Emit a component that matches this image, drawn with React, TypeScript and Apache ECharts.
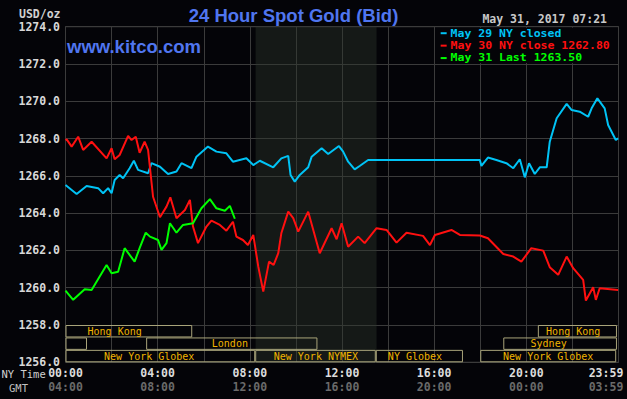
import { useEffect, useRef } from 'react';
import * as echarts from 'echarts';

// ---- data (x = minutes after 00:00 NY time, y = USD/oz) ----
const may29Closed: [number, number][] = [
  [0, 1265.51], [29, 1265.03], [55, 1265.46], [85, 1265.34], [98, 1265.07], [111, 1265.34], [120, 1265.07],
  [128, 1265.78], [141, 1266.05], [150, 1265.87], [167, 1266.41], [178, 1266.81], [189, 1266.32], [215, 1266.14],
  [224, 1266.68], [246, 1266.49], [267, 1266.10], [289, 1266.23], [302, 1266.68], [328, 1266.41], [341, 1267.03],
  [371, 1267.57], [393, 1267.30], [419, 1267.21], [436, 1266.76], [471, 1266.94], [489, 1266.58], [506, 1266.81],
  [541, 1266.46], [562, 1266.94], [580, 1267.07], [586, 1266.05], [597, 1265.69], [610, 1266.05], [632, 1266.46],
  [641, 1267.03], [667, 1267.48], [684, 1267.17], [712, 1267.60], [723, 1267.30], [736, 1266.76], [753, 1266.35],
  [766, 1266.53], [788, 1266.85], [1079, 1266.85], [1083, 1266.53], [1100, 1266.98], [1122, 1266.85], [1148, 1266.68],
  [1166, 1266.41], [1183, 1266.89], [1196, 1265.92], [1207, 1266.68], [1222, 1266.10], [1235, 1266.46], [1253, 1266.46],
  [1261, 1267.83], [1279, 1269.09], [1305, 1269.86], [1318, 1269.53], [1339, 1269.44], [1361, 1269.17], [1370, 1269.62],
  [1385, 1270.16], [1404, 1269.62], [1413, 1268.73], [1433, 1267.92], [1439, 1268.02],
];

const may30Close: [number, number][] = [
  [0, 1267.92], [3, 1267.96], [16, 1267.57], [33, 1268.10], [46, 1267.39], [68, 1267.83], [107, 1266.94],
  [120, 1267.48], [128, 1266.89], [141, 1267.12], [163, 1268.14], [172, 1267.92], [183, 1268.10], [193, 1267.24],
  [206, 1267.83], [215, 1267.39], [228, 1264.88], [246, 1263.78], [263, 1264.35], [273, 1264.85], [289, 1263.73],
  [311, 1264.17], [324, 1264.71], [332, 1263.28], [345, 1262.39], [367, 1263.28], [380, 1263.60], [402, 1263.37],
  [419, 1263.06], [436, 1263.54], [445, 1262.74], [462, 1262.56], [475, 1262.29], [489, 1262.83], [502, 1261.13],
  [515, 1259.79], [530, 1261.40], [542, 1261.22], [554, 1261.85], [562, 1262.92], [580, 1264.08], [593, 1263.73],
  [606, 1263.01], [632, 1264.08], [662, 1261.85], [693, 1263.19], [706, 1262.60], [719, 1263.46], [736, 1262.20],
  [762, 1262.74], [779, 1262.39], [810, 1263.19], [836, 1263.10], [862, 1262.42], [888, 1262.95], [931, 1262.78],
  [949, 1262.29], [962, 1262.83], [1005, 1263.10], [1027, 1262.83], [1079, 1262.80], [1100, 1262.65], [1140, 1261.81],
  [1166, 1261.67], [1187, 1261.40], [1213, 1262.12], [1244, 1261.99], [1261, 1261.10], [1283, 1260.69], [1305, 1261.67],
  [1322, 1261.05], [1348, 1260.42], [1355, 1259.31], [1374, 1260.03], [1381, 1259.35], [1391, 1259.97], [1439, 1259.88],
];

const may31Last: [number, number][] = [
  [0, 1259.84], [20, 1259.35], [50, 1259.92], [68, 1259.88], [107, 1261.22], [120, 1260.78], [137, 1260.86],
  [154, 1262.12], [180, 1261.40], [193, 1262.12], [209, 1262.95], [220, 1262.74], [241, 1262.56], [250, 1262.03],
  [263, 1262.39], [272, 1263.46], [289, 1262.95], [306, 1263.37], [332, 1263.46], [354, 1264.26], [376, 1264.75],
  [393, 1264.26], [415, 1264.13], [428, 1264.39], [441, 1263.70],
];

// NYMEX floor session (shaded), minutes
const nymexSession: [number, number] = [495, 810];

// Trading sessions: [start, end, row, label-at, name]
const sessions: [number, number, number, number, string][] = [
  [0, 330, 0, 128, 'Hong Kong'],
  [1230, 1436, 0, 1322, 'Hong Kong'],
  [0, 56, 1, 0, ''],
  [210, 656, 1, 428, 'London'],
  [1140, 1436, 1, 1258, 'Sydney'],
  [0, 494, 2, 218, 'New York Globex'],
  [494, 808, 2, 652, 'New York NYMEX'],
  [808, 1035, 2, 910, 'NY Globex'],
  [1080, 1434, 2, 1257, 'New York Globex'],
];

const labelMinutes = [0, 240, 480, 720, 960, 1200, 1440];
const nyTimeLabels = ['00:00', '04:00', '08:00', '12:00', '16:00', '20:00', '23:59'];
const gmtLabels = ['04:00', '08:00', '12:00', '16:00', '20:00', '00:00', '03:59'];

const legendTexts = ['May 29 NY closed', 'May 30 NY close 1262.80', 'May 31 Last 1263.50'];

const BG = '#040408';
const CYAN = '#00c3f5';
const RED = '#ff1010';
const GREEN = '#00ff00';
const BLUE = '#5076f0';
const GRID = '#3b3b3b';
const MONO = '"DejaVu Sans Mono", monospace';
const SESSION_TOP = 1258;
const ROW_SPAN = 2 / 3;

export default function App() {
  const ref = useRef<HTMLDivElement>(null);

  useEffect(() => {
    const chart = echarts.init(ref.current!, null, { renderer: 'svg' });

    const lineSeries = (name: string, data: [number, number][], color: string) => ({
      name,
      type: 'line',
      data,
      showSymbol: false,
      symbol: 'none',
      lineStyle: { color, width: 2 },
      itemStyle: { color },
      z: 5,
    });

    const tickStyle = { fontFamily: MONO, fontSize: 11.5, fontWeight: 'bold', lineHeight: 14 };

    chart.setOption({
      animation: false,
      backgroundColor: BG,
      grid: {
        left: 65.5,
        right: 8.5,
        top: 26.7,
        bottom: 36.7,
        containLabel: false,
        outerBoundsMode: 'none',
        show: true,
        borderColor: '#4a4a4a',
        borderWidth: 1,
        backgroundColor: 'transparent',
      },
      xAxis: {
        type: 'value',
        min: 0,
        max: 1440,
        interval: 120,
        axisLine: { show: false },
        axisTick: { show: false },
        splitLine: { show: true, lineStyle: { color: GRID, width: 1 } },
        axisLabel: {
          showMinLabel: true,
          showMaxLabel: true,
          margin: 4,
          formatter: (v: number) => {
            const i = labelMinutes.indexOf(v);
            if (i < 0) return '';
            if (i === labelMinutes.length - 1) return `{c|${nyTimeLabels[i]}}\n{d|${gmtLabels[i]}}`;
            return `{a|${nyTimeLabels[i]}}\n{b|${gmtLabels[i]}}`;
          },
          rich: {
            a: { ...tickStyle, color: '#dcdcdc' },
            b: { ...tickStyle, color: '#6a6a6a' },
            c: { ...tickStyle, color: '#dcdcdc', padding: [0, 25, 0, 0] },
            d: { ...tickStyle, color: '#6a6a6a', padding: [0, 25, 0, 0] },
          },
        },
      },
      yAxis: {
        type: 'value',
        min: 1256,
        max: 1274,
        interval: 2,
        axisLine: { show: false },
        axisTick: { show: false },
        splitLine: { show: true, lineStyle: { color: GRID, width: 1 } },
        axisLabel: {
          margin: 5.5,
          color: '#d8d8d8',
          fontFamily: MONO,
          fontSize: 11.5,
          fontWeight: 'bold',
          formatter: (v: number) => v.toFixed(1),
        },
      },
      series: [
        {
          ...lineSeries('May 29 NY closed', may29Closed, CYAN),
          markArea: {
            silent: true,
            itemStyle: { color: 'rgba(45,55,45,0.42)' },
            data: [[{ xAxis: nymexSession[0] }, { xAxis: nymexSession[1] }]],
          },
        },
        lineSeries('May 30 NY close', may30Close, RED),
        lineSeries('May 31 Last', may31Last, GREEN),
        {
          type: 'custom',
          silent: true,
          z: 4,
          data: sessions.map((s) => [s[0], s[1], s[2], s[3]]),
          encode: { x: [0, 1, 3] },
          renderItem: (params: any, api: any) => {
            const s = sessions[params.dataIndex];
            const topV = SESSION_TOP - s[2] * ROW_SPAN;
            const botV = topV - ROW_SPAN;
            const p0 = api.coord([s[0], topV]);
            const p1 = api.coord([s[1], botV]);
            const pl = api.coord([s[3], (topV + botV) / 2]);
            const children: any[] = [
              {
                type: 'rect',
                shape: { x: p0[0] + 0.5, y: p0[1] + 0.5, width: p1[0] - p0[0] - 1, height: p1[1] - p0[1] - 1 },
                style: { fill: 'none', stroke: '#a9a47a', lineWidth: 1 },
              },
            ];
            if (s[4]) {
              children.push({
                type: 'text',
                x: pl[0],
                y: pl[1],
                style: {
                  text: s[4],
                  fill: '#f0b400',
                  font: `10px ${MONO}`,
                  lineHeight: 11,
                  align: 'center',
                  verticalAlign: 'middle',
                },
              });
            }
            return { type: 'group', children };
          },
        },
      ],
    });

    const [lx0, ly0] = chart.convertToPixel({ gridIndex: 0 }, [960, 1274]) as number[];
    const [lx1, ly1] = chart.convertToPixel({ gridIndex: 0 }, [1440, 1272]) as number[];
    const legendColors = [CYAN, RED, GREEN];
    const rowH = (ly1 - ly0) / 3;

    const graphics: any[] = [
      {
        type: 'rect',
        z: 100,
        shape: { x: lx0 + 1, y: ly0 + 1, width: lx1 - lx0 - 2, height: ly1 - ly0 - 2 },
        style: { fill: BG },
      },
      {
        type: 'text', z: 100, x: 293.5, y: 15,
        style: { text: '24 Hour Spot Gold (Bid)', fill: BLUE, font: 'bold 18.5px "Liberation Sans", Arial, sans-serif', align: 'center', verticalAlign: 'middle' },
      },
      {
        type: 'text', z: 100, x: 67, y: 46.3,
        style: { text: 'www.kitco.com', fill: BLUE, font: 'bold 18.5px "Liberation Sans", Arial, sans-serif', align: 'left', verticalAlign: 'middle' },
      },
      {
        type: 'text', z: 100, x: 60.5, y: 13.5,
        style: { text: 'USD/oz', fill: '#d0d0d0', font: `bold 11.5px ${MONO}`, lineHeight: 12, align: 'right', verticalAlign: 'middle' },
      },
      {
        type: 'text', z: 100, x: 607, y: 19,
        style: { text: 'May 31, 2017 07:21', fill: '#c8c8c8', font: `bold 11.5px ${MONO}`, lineHeight: 12, align: 'right', verticalAlign: 'middle' },
      },
      {
        type: 'text', z: 100, x: 1.5, y: 373.5,
        style: { text: 'NY Time', fill: '#d0d0d0', font: `10.5px ${MONO}`, lineHeight: 12, align: 'left', verticalAlign: 'middle' },
      },
      {
        type: 'text', z: 100, x: 9, y: 387.5,
        style: { text: 'GMT', fill: '#c0c0c0', font: `10.5px ${MONO}`, lineHeight: 12, align: 'left', verticalAlign: 'middle' },
      },
    ];
    legendTexts.forEach((t, i) => {
      const y = ly0 + rowH * (i + 0.5) + 0.3;
      graphics.push({
        type: 'rect', z: 101,
        shape: { x: lx0 + 6.5, y: y - 1, width: 6, height: 2 },
        style: { fill: legendColors[i] },
      });
      graphics.push({
        type: 'text', z: 101, x: lx0 + 16.4, y,
        scaleY: 0.9,
        style: { text: t, fill: legendColors[i], font: `bold 11.5px ${MONO}`, lineHeight: 11, align: 'left', verticalAlign: 'middle' },
      });
    });
    chart.setOption({ graphic: graphics });

    return () => chart.dispose();
  }, []);

  return (
    <div
      ref={ref}
      style={{ position: 'absolute', left: 0, top: 0, width: 627, height: 399, background: BG }}
    />
  );
}
